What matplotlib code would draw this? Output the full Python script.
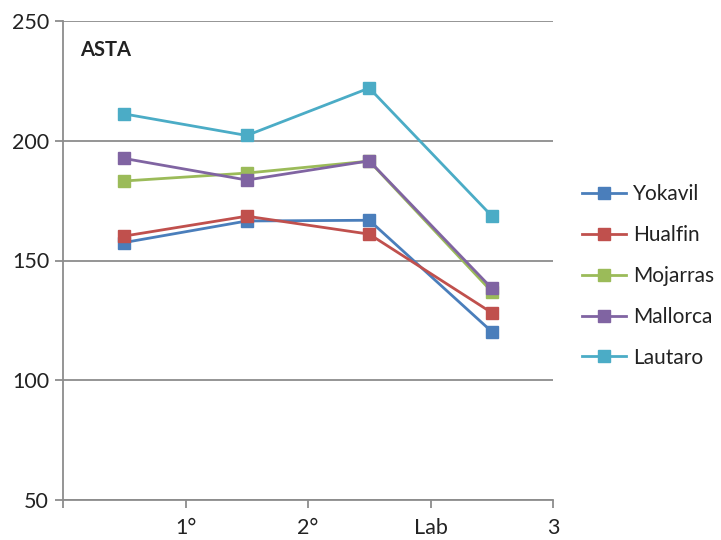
import matplotlib.pyplot as plt

plt.rcParams['font.family'] = ['Lato', 'DejaVu Sans']

# datos
series = ['Yokavil', 'Hualfin', 'Mojarras', 'Mallorca', 'Lautaro']
yokavil = [157.5, 166.5, 166.8, 120.3]
hualfin = [160.2, 168.5, 161.0, 128.2]
mojarras = [183.2, 186.5, 191.5, 137.0]
mallorca = [192.6, 183.6, 191.6, 138.4]
lautaro = [211.2, 202.2, 222.0, 168.6]
tick_labels = ['1°', '2°', 'Lab', '3']

valores = [yokavil, hualfin, mojarras, mallorca, lautaro]
colores = ['#4A7EBB', '#C0504D', '#9BBB59', '#8064A2', '#4BACC6']

fig = plt.figure(figsize=(7.21, 5.40), dpi=100)
ax = fig.add_axes([63/721, 1 - 500/540, (553 - 63)/721, (500 - 21)/540])

x = list(range(len(yokavil)))
for nombre, v, c in zip(series, valores, colores):
    ax.plot(x, v, color=c, lw=2.0, marker='s', markersize=9, label=nombre)

ax.set_xlim(-0.5, 3.5)
ax.set_ylim(50, 250)
ax.set_yticks([50, 100, 150, 200, 250])
ax.set_xticks([-0.5, 0.5, 1.5, 2.5, 3.5])
ax.set_xticklabels([''] + tick_labels)

ax.grid(axis='y', color='#8c8c8c', lw=1.3)
ax.set_axisbelow(True)
for s in ['top', 'right']:
    ax.spines[s].set_visible(False)
for s in ['left', 'bottom']:
    ax.spines[s].set_color('#8c8c8c')
    ax.spines[s].set_linewidth(1.3)
ax.tick_params(axis='both', colors='#8c8c8c', length=6, width=1.3, labelsize=15.5,
               labelcolor='#222222')
ax.tick_params(axis='x', pad=7)
ax.tick_params(axis='y', pad=4)

ax.text(80/721, 1 - 50/540, 'ASTA', transform=fig.transFigure, fontsize=14.5,
        fontweight='bold', color='#222222', va='center', ha='left')

fig.legend(loc='center left', bbox_to_anchor=(582/721, 1 - 276/540), frameon=False,
           fontsize=15, handlelength=2.1, handletextpad=0.35, labelspacing=1.0,
           borderpad=0, borderaxespad=0, labelcolor='#222222')

plt.savefig('out.png', dpi=100)
